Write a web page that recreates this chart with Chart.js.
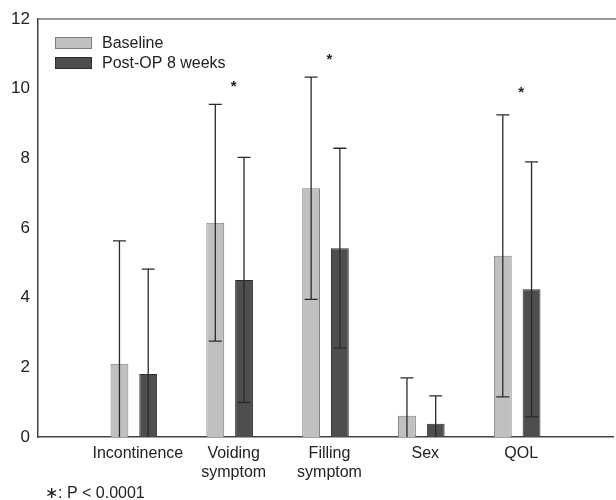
<!DOCTYPE html>
<html>
<head>
<meta charset="utf-8">
<script src="https://cdn.jsdelivr.net/npm/chart.js@4.4.1/dist/chart.umd.min.js"></script>
<style>
body{margin:0;overflow:hidden;background:#fff}
#caja{width:620px;height:500px}
</style>
</head>
<body>
<div id="caja"><canvas id="grafica"></canvas></div>
<script>
//datos
const categorias=['','Incontinence',['Voiding','symptom'],['Filling','symptom'],'Sex','QOL',''];
const baseline=[null,2.10,6.15,7.14,0.61,5.20,null];
const baselineSD=[null,3.53,3.40,3.19,1.09,4.05,null];
const postOp=[null,1.81,4.51,5.42,0.38,4.24,null];
const postOpSD=[null,3.01,3.52,2.87,0.80,3.66,null];
const asteriscos=[null,null,10.15,10.9,null,9.98,null];
const nota='\u2217: P < 0.0001';
const fuente='"Liberation Sans", Arial, sans-serif';

//barras de error, asteriscos, leyenda, borde superior y nota
const extras={
  id:'extras',
  afterDatasetsDraw(chart){
    const ctx=chart.ctx;
    const ejeY=chart.scales.y, ejeX=chart.scales.x;
    const area=chart.chartArea;
    const sds=[baselineSD,postOpSD];
    ctx.save();
    ctx.strokeStyle='#2a2a2a';
    ctx.lineWidth=1.3;
    chart.data.datasets.forEach((ds,i)=>{
      const meta=chart.getDatasetMeta(i);
      meta.data.forEach((bar,j)=>{
        const v=ds.data[j];
        if(v==null) return;
        const alto=v+sds[i][j], bajo=v-sds[i][j];
        const yA=ejeY.getPixelForValue(alto);
        const yB=ejeY.getPixelForValue(Math.max(0,bajo));
        ctx.beginPath();
        ctx.moveTo(bar.x,yA); ctx.lineTo(bar.x,yB);
        ctx.moveTo(bar.x-6.5,yA); ctx.lineTo(bar.x+6.5,yA);
        if(bajo>0){ ctx.moveTo(bar.x-6.5,yB); ctx.lineTo(bar.x+6.5,yB); }
        ctx.stroke();
      });
    });
    ctx.fillStyle='#222';
    ctx.font='bold 15px '+fuente;
    ctx.textAlign='center';
    ctx.textBaseline='middle';
    asteriscos.forEach((a,j)=>{
      if(a==null) return;
      ctx.fillText('*',ejeX.getPixelForValue(j)+4,ejeY.getPixelForValue(a)+3);
    });
    // leyenda
    ctx.font='16px '+fuente;
    ctx.textAlign='left';
    chart.data.datasets.forEach((ds,i)=>{
      const y0=area.top+18+i*20;
      ctx.fillStyle=ds.backgroundColor;
      ctx.fillRect(area.left+17,y0,37,12);
      ctx.strokeStyle=ds.borderColor;
      ctx.lineWidth=1;
      ctx.strokeRect(area.left+17.5,y0+0.5,36,11);
      ctx.fillStyle='#222';
      ctx.fillText(ds.label,area.left+64,y0+6.5);
    });
    // linea superior
    ctx.strokeStyle='#777';
    ctx.lineWidth=1.5;
    ctx.beginPath();
    ctx.moveTo(area.left,area.top); ctx.lineTo(chart.width,area.top);
    ctx.stroke();
    // nota
    ctx.fillStyle='#222';
    ctx.fillText(nota,45,chart.height-6);
    ctx.restore();
  }
};

new Chart(document.getElementById('grafica'),{
  type:'bar',
  data:{
    labels:categorias,
    datasets:[{
      label:'Baseline',
      data:baseline,
      backgroundColor:'#c0c0c0',
      borderColor:'#7d7d7d',
      borderWidth:1
    },{
      label:'Post-OP 8 weeks',
      data:postOp,
      backgroundColor:'#4e4e4e',
      borderColor:'#2e2e2e',
      borderWidth:1
    }]
  },
  options:{
    responsive:true,
    maintainAspectRatio:false,
    animation:false,
    categoryPercentage:0.6,
    barPercentage:0.62,
    layout:{padding:{top:19,bottom:5,left:0,right:0}},
    plugins:{
      legend:{display:false},
      tooltip:{enabled:false}
    },
    scales:{
      x:{
        offset:false,
        grid:{display:false,drawTicks:false},
        border:{color:'#444',width:1.5},
        ticks:{color:'#222',font:{family:fuente,size:16},padding:7,maxRotation:0,autoSkip:false,labelOffset:4},
        afterFit(s){ s.height=58; }
      },
      y:{
        min:0,max:12,
        grid:{display:false,drawTicks:false},
        border:{color:'#444',width:1.5},
        ticks:{stepSize:2,color:'#222',font:{family:fuente,size:17},padding:8},
        afterFit(s){ s.width=38; }
      }
    }
  },
  plugins:[extras]
});
</script>
</body>
</html>
